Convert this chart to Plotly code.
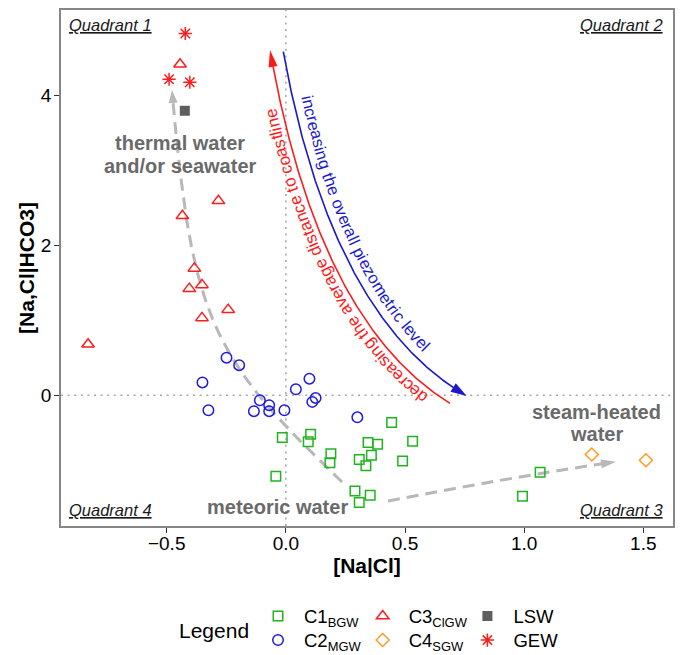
import numpy as np
from math import comb
import plotly.graph_objects as go

# ---------------- data ----------------
c1_x = [-0.015, 0.104, 0.094, 0.189, 0.185, -0.042, 0.444, 0.532, 0.345, 0.385,
        0.359, 0.308, 0.336, 0.490, 0.290, 0.354, 0.308, 1.067, 0.993]
c1_y = [-0.565, -0.52, -0.62, -0.78, -0.90, -1.08, -0.364, -0.613, -0.63, -0.653,
        -0.80, -0.858, -0.94, -0.876, -1.276, -1.333, -1.43, -1.027, -1.347]

c2_x = [-0.249, -0.196, -0.350, -0.325, -0.109, -0.070, -0.134, -0.070, -0.006,
        0.042, 0.099, 0.125, 0.111, 0.300]
c2_y = [0.50, 0.40, 0.17, -0.20, -0.067, -0.133, -0.213, -0.213, -0.20,
        0.08, 0.22, -0.036, -0.089, -0.295]

c3_x = [-0.444, -0.283, -0.434, -0.384, -0.405, -0.352, -0.242, -0.352, -0.830]
c3_y = [4.41, 2.59, 2.39, 1.69, 1.42, 1.47, 1.14, 1.03, 0.68]

c4_x = [1.284, 1.511]
c4_y = [-0.79, -0.867]

lsw_x = [-0.424]
lsw_y = [3.79]

gew_x = [-0.422, -0.490, -0.403]
gew_y = [4.82, 4.21, 4.17]

x_ticks = [-0.5, 0.0, 0.5, 1.0, 1.5]
y_ticks = [0, 2, 4]

# ---------------- layout geometry ----------------
FONT = "Liberation Sans, Arial, Helvetica, sans-serif"
W, H = 681, 655
ML, MR, MT, MB = 61, 8, 10, 129
X_RANGE = [-0.9436, 1.6247]
Y_RANGE = [-1.743, 5.133]
PW = W - ML - MR
PH = H - MT - MB


def to_x(px):
    return X_RANGE[0] + (np.asarray(px) - ML) / PW * (X_RANGE[1] - X_RANGE[0])


def to_y(py):
    return Y_RANGE[1] - (np.asarray(py) - MT) / PH * (Y_RANGE[1] - Y_RANGE[0])


def pap_x(px):
    return (px - ML) / PW


def pap_y(py):
    return (MT + PH - py) / PH


def bezier(ctrl, n=600):
    ctrl = np.asarray(ctrl, float)
    t = np.linspace(0, 1, n)[:, None]
    deg = len(ctrl) - 1
    return sum(comb(deg, k) * (1 - t) ** (deg - k) * t ** k * ctrl[k] for k in range(deg + 1))


# decorative arrow paths (pixel control points; last point is the arrow tip)
GRAY1_CTRL = [(342, 482), (211.4, 357.6), (191.6, 320), (172, 90)]
GRAY2_CTRL = [(388, 501), (524, 474.9), (616, 461.7)]
RED_CTRL = [(450, 403.3), (317.9, 322.4), (270, 50)]
BLUE_CTRL = [(283.3, 51.7), (331.1, 317.2), (466.7, 396)]

fig = go.Figure()
shapes = []
annotations = []


def add_arrow(ctrl, color, width, dash, head_len, head_w):
    pts = bezier(ctrl)
    seg = np.hypot(*np.diff(pts, axis=0).T)
    s = np.concatenate([[0], np.cumsum(seg)])
    L = s[-1]
    tip = pts[-1]
    base = np.array([np.interp(L - head_len, s, pts[:, 0]), np.interp(L - head_len, s, pts[:, 1])])
    d = tip - base
    d = d / np.linalg.norm(d)
    nrm = np.array([-d[1], d[0]])
    b = tip - d * head_len
    p1 = b + nrm * head_w / 2
    p2 = b - nrm * head_w / 2
    line = pts[s <= L - head_len * 0.6]
    fig.add_trace(go.Scatter(x=to_x(line[:, 0]), y=to_y(line[:, 1]), mode="lines",
                             line=dict(color=color, width=width, dash=dash),
                             hoverinfo="skip", showlegend=False))
    path = "M {} {} L {} {} L {} {} Z".format(to_x(tip[0]), to_y(tip[1]), to_x(p1[0]), to_y(p1[1]),
                                              to_x(p2[0]), to_y(p2[1]))
    shapes.append(dict(type="path", xref="x", yref="y", path=path, fillcolor=color,
                       line=dict(width=0), layer="above"))


CW = {' ': 278, 'a': 556, 'b': 556, 'c': 500, 'd': 556, 'e': 556, 'f': 278, 'g': 556, 'h': 556,
      'i': 222, 'j': 222, 'k': 500, 'l': 222, 'm': 833, 'n': 556, 'o': 556, 'p': 556, 'q': 556,
      'r': 333, 's': 500, 't': 278, 'u': 556, 'v': 500, 'w': 722, 'x': 500, 'y': 500, 'z': 500}


def curve_text(text, ctrl, start_px, end_px, offset, color):
    pts = bezier(ctrl, 3000)
    d = np.gradient(pts, axis=0)
    T = d / np.linalg.norm(d, axis=1)[:, None]
    up = np.stack([T[:, 1], -T[:, 0]], axis=1)
    off = pts + offset * up
    seg = np.hypot(*np.diff(off, axis=0).T)
    s = np.concatenate([[0], np.cumsum(seg)])
    i0 = np.argmin(np.hypot(off[:, 0] - start_px[0], off[:, 1] - start_px[1]))
    i1 = np.argmin(np.hypot(off[:, 0] - end_px[0], off[:, 1] - end_px[1]))
    em = sum(CW.get(ch, 556) for ch in text) / 1000.0
    size = float(np.clip((s[i1] - s[i0]) / em, 13, 17))
    pos = s[i0]
    for ch in text:
        w = CW.get(ch, 556) / 1000.0 * size
        c = pos + w / 2
        x = np.interp(c, s, off[:, 0])
        y = np.interp(c, s, off[:, 1])
        k = min(np.searchsorted(s, c), len(T) - 1)
        ang = float(np.degrees(np.arctan2(T[k, 1], T[k, 0])))
        if ch != ' ':
            annotations.append(dict(x=float(to_x(x)), y=float(to_y(y)), xref="x", yref="y", text=ch,
                                    textangle=ang, showarrow=False, xanchor="center", yanchor="middle",
                                    font=dict(size=size, color=color, family=FONT)))
        pos += w


# reference lines at zero
shapes.append(dict(type="line", xref="x", yref="paper", x0=0, x1=0, y0=0, y1=1,
                   line=dict(color="#a8a8a8", width=1.6, dash="2px,4.6px"), layer="below"))
shapes.append(dict(type="line", xref="paper", yref="y", x0=0, x1=1, y0=0, y1=0,
                   line=dict(color="#a8a8a8", width=1.6, dash="2px,4.6px"), layer="below"))

# arrows
add_arrow(GRAY1_CTRL, "#b8b8b8", 3, "12px,7px", 13, 9)
add_arrow(GRAY2_CTRL, "#b8b8b8", 3, "12px,7px", 15, 9)
add_arrow(RED_CTRL, "#ff1a1a", 1.6, "solid", 17, 9)
add_arrow(BLUE_CTRL, "#1a1acc", 1.6, "solid", 16, 10)

curve_text("increasing the overall piezometric level", BLUE_CTRL, (310, 95), (421, 355), 14, "#1a1acc")
curve_text("decreasing the average distance to coastline", RED_CTRL, (425, 400.5), (274, 106), 11, "#ff1a1a")

# ---------------- data traces ----------------
GREEN, BLUE, RED, ORANGE, DGRAY = "#1fb41f", "#1c1ce0", "#ff1c1c", "#ff9a1f", "#5e5e5e"
fig.add_trace(go.Scatter(x=c1_x, y=c1_y, mode="markers", name="C1<sub>BGW</sub>", legend="legend",
                         marker=dict(symbol="square-open", size=9.5, color=GREEN,
                                     line=dict(width=1.5, color=GREEN))))
fig.add_trace(go.Scatter(x=c3_x, y=c3_y, mode="markers", name="C3<sub>ClGW</sub>", legend="legend",
                         marker=dict(symbol="triangle-up-open", size=11, color=RED,
                                     line=dict(width=1.5, color=RED))))
fig.add_trace(go.Scatter(x=lsw_x, y=lsw_y, mode="markers", name="LSW", legend="legend",
                         marker=dict(symbol="square", size=10, color=DGRAY, line=dict(width=0))))
fig.add_trace(go.Scatter(x=c2_x, y=c2_y, mode="markers", name="C2<sub>MGW</sub>", legend="legend2",
                         marker=dict(symbol="circle-open", size=10.5, color=BLUE,
                                     line=dict(width=1.5, color=BLUE))))
fig.add_trace(go.Scatter(x=c4_x, y=c4_y, mode="markers", name="C4<sub>SGW</sub>", legend="legend2",
                         marker=dict(symbol="diamond-open", size=10, color=ORANGE,
                                     line=dict(width=1.5, color=ORANGE))))
fig.add_trace(go.Scatter(x=gew_x, y=gew_y, mode="markers", name="GEW", legend="legend2",
                         marker=dict(symbol="asterisk-open", size=11, color=RED,
                                     line=dict(width=1.5, color=RED))))

# ---------------- text labels ----------------
GRAYTXT = "#6a6a6a"


def ptext(px, py, text, size, color, xanchor="center", font_extra=None):
    f = dict(size=size, color=color, family=FONT)
    if font_extra:
        f.update(font_extra)
    annotations.append(dict(x=pap_x(px), y=pap_y(py), xref="paper", yref="paper", text=text,
                            showarrow=False, xanchor=xanchor, yanchor="middle", font=f))


ptext(180, 143, "<b>thermal water</b>", 20, GRAYTXT)
ptext(180, 166, "<b>and/or seawater</b>", 20, GRAYTXT)
ptext(596, 412, "<b>steam-heated</b>", 20, GRAYTXT)
ptext(596, 434, "<b>water</b>", 20, GRAYTXT)
ptext(277, 507, "<b>meteoric water</b>", 20, GRAYTXT)

QF = dict(style="italic", lineposition="under")
ptext(67, 25, "Quadrant 1", 16.5, "#1a1a1a", "left", QF)
ptext(665, 25, "Quadrant 2", 16.5, "#1a1a1a", "right", QF)
ptext(665, 510, "Quadrant 3", 16.5, "#1a1a1a", "right", QF)
ptext(67, 510, "Quadrant 4", 16.5, "#1a1a1a", "left", QF)

ptext(214, 630, "Legend", 21, "#000000")

LEG_X = pap_x(252)
legend_common = dict(orientation="h", xanchor="left", yanchor="top", entrywidth=47.7,
                     entrywidthmode="pixels", itemwidth=42, bgcolor="rgba(0,0,0,0)", borderwidth=0,
                     font=dict(size=18.5, family=FONT, color="#000000"), itemclick=False,
                     itemdoubleclick=False)

fig.update_layout(
    width=W, height=H,
    margin=dict(l=ML, r=MR, t=MT, b=MB, autoexpand=False),
    paper_bgcolor="white", plot_bgcolor="white",
    font=dict(family=FONT, color="#000000"),
    xaxis=dict(range=X_RANGE, tickvals=x_ticks, tickformat=".1f", ticks="outside", ticklen=5,
               tickwidth=1.2, tickcolor="#333333", showgrid=False, zeroline=False,
               showline=True, mirror=True, linecolor="#868686", linewidth=1.5,
               ticklabelstandoff=-6,
               tickfont=dict(size=19, color="#000000"),
               title=dict(text="<b>[Na|Cl]</b>", font=dict(size=21), standoff=3)),
    yaxis=dict(range=Y_RANGE, tickvals=y_ticks, ticks="outside", ticklen=5,
               tickwidth=1.2, tickcolor="#333333", showgrid=False, zeroline=False,
               showline=True, mirror=True, linecolor="#868686", linewidth=1.5,
               ticklabelstandoff=-1,
               tickfont=dict(size=19, color="#000000"),
               title=dict(text="<b>[Na,Cl|HCO3]</b>", font=dict(size=21), standoff=1)),
    legend=dict(x=LEG_X, y=pap_y(597.5), **legend_common),
    legend2=dict(x=LEG_X, y=pap_y(621.5), **legend_common),
    shapes=shapes,
    annotations=annotations,
)

fig.write_html("out.html", config={"displayModeBar": False},
               post_script="document.body.style.margin='0';document.body.style.overflow='hidden';")
